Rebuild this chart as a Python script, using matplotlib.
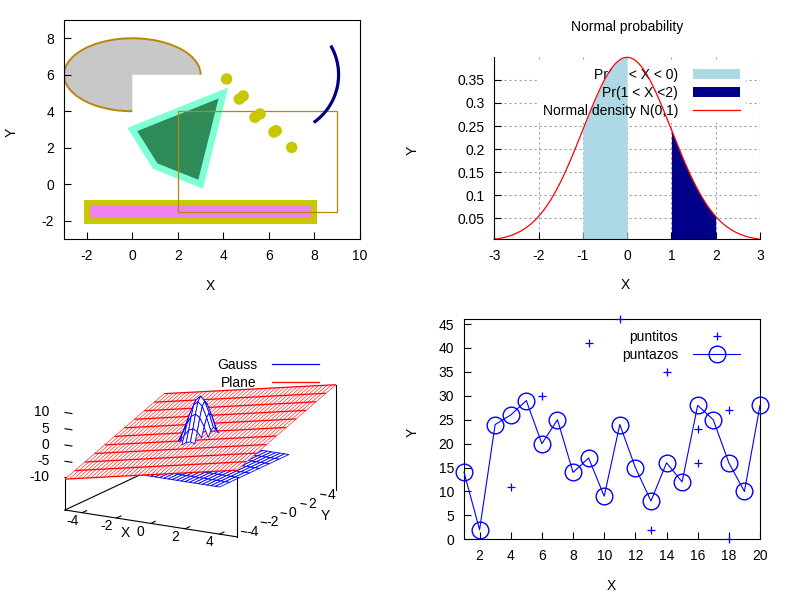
import numpy as np
import matplotlib
matplotlib.use("Agg")
import matplotlib.pyplot as plt
from matplotlib.patches import Rectangle, Polygon, PathPatch
from matplotlib.path import Path
from matplotlib.transforms import Affine2D
from matplotlib.lines import Line2D
from mpl_toolkits.mplot3d import proj3d
from mpl_toolkits.mplot3d.art3d import Poly3DCollection, Line3DCollection

plt.rcParams['font.family'] = ['Liberation Sans', 'DejaVu Sans']
plt.rcParams['font.size'] = 10
plt.rcParams['axes.unicode_minus'] = False

# ---------------- data: panel 1 (objects) ----------------
pie_center = [0.0, 6.0]
pie_size = [3.0, 2.0]          # semi-axes
pie_arc = [0.0, 270.0]
poly_vertices = [[4.0, 5.0], [0.0, 3.0], [1.0, 1.0], [3.0, 0.0]]
bar_corner = [-2.0, -2.0]
bar_extent = [10.0, 1.0]
frame_corner = [2.0, -1.5]
frame_extent = [7.0, 5.5]
dots_x = [4.14, 4.70, 4.87, 5.39, 5.61, 6.22, 6.32, 7.00]
dots_y = [5.77, 4.67, 4.84, 3.67, 3.85, 2.86, 2.93, 2.02]
arc_center = [6.5, 6.0]
arc_radius = 2.56
arc_angles = [-55.0, 30.0]

# ---------------- data: panel 2 (normal probability) ----------------
norm_mu = 0.0
norm_sigma = 1.0
norm_range = [-3.0, 3.0]
band1 = [-1.0, 0.0]
band2 = [1.0, 2.0]
norm_labels = ["Pr(-1 < X < 0)", "Pr(1 < X <2)", "Normal density N(0,1)"]

# ---------------- data: panel 3 (3D surfaces) ----------------
plane_x = np.linspace(-5, 5, 41)
plane_y = np.linspace(-5, 5, 11)
plane_coef = [1.1, 1.2, 1.0]            # z = a*x + b*y + c
gauss_floor_x = np.linspace(-2, 4, 25)
gauss_floor_y = np.linspace(-5, 2, 8)
gauss_peak_x = np.linspace(-1.5, 1.5, 13)
gauss_peak_y = np.linspace(-1.5, 1.5, 13)
gauss_par = [-5.5, 17.5, 0.78]          # floor, amplitude, width
tick3_xy = [-4, -2, 0, 2, 4]
tick3_z = [-10, -5, 0, 5, 10]

# ---------------- data: panel 4 ----------------
puntazos_x = list(range(1, 21))
puntazos_y = [14, 2, 24, 26, 29, 20, 25, 14, 17, 9, 24, 15, 8, 16, 12, 28, 25, 16, 10, 28]
puntitos_x = [4, 6, 9, 11, 13, 14, 16, 16, 18, 18]
puntitos_y = [11, 30, 41, 46, 2, 35, 23, 16, 27, 0]

W, H = 800, 600
fig = plt.figure(figsize=(8, 6), dpi=100)


def rect(l, t, r, b):
    return [l / W, 1 - b / H, (r - l) / W, (b - t) / H]


def style2d(ax):
    ax.tick_params(direction='in', length=5, width=0.8, pad=7, labelsize=10)
    for s in ax.spines.values():
        s.set_linewidth(0.8)


def place_labels(ax, xc, yc):
    ax.set_xlabel('X')
    ax.set_ylabel('Y')
    ax.xaxis.set_label_coords(*xc)
    ax.yaxis.set_label_coords(*yc)
    ax.xaxis.label.set_va('center')
    ax.yaxis.label.set_va('center')


# ====== panel 1 ======
ax1 = fig.add_axes(rect(64, 20, 360, 239))
ax1.set_xlim(-3, 10)
ax1.set_ylim(-3, 9)
ax1.set_xticks(range(-2, 11, 2))
ax1.set_yticks(range(-2, 9, 2))
style2d(ax1)

pie_tr = Affine2D().scale(pie_size[0], pie_size[1]).translate(*pie_center) + ax1.transData
ax1.add_patch(PathPatch(Path.wedge(*pie_arc), transform=pie_tr, facecolor='#c8c8c8',
                        edgecolor='none', zorder=1))
ax1.add_patch(PathPatch(Path.arc(*pie_arc), transform=pie_tr, facecolor='none',
                        edgecolor='#b8860b', lw=1.4, zorder=1.1))
ax1.add_patch(Polygon(poly_vertices, closed=True, facecolor='#2e8b57', edgecolor='#7fffd4',
                      lw=4.8, joinstyle='miter', zorder=2))
ax1.add_patch(Rectangle(bar_corner, *bar_extent, facecolor='#ee82ee', edgecolor='#c8c800',
                        lw=4.3, joinstyle='miter', zorder=2))
ax1.add_patch(Rectangle(frame_corner, *frame_extent, facecolor='none', edgecolor='#b8860b',
                        lw=0.9, zorder=3))
ax1.scatter(dots_x, dots_y, s=68, color='#c8c800', edgecolors='none', zorder=4)
p0 = ax1.transData.transform((0, 0))
px = ax1.transData.transform((1, 0))[0] - p0[0]
py = ax1.transData.transform((0, 1))[1] - p0[1]
arc_tr = Affine2D().scale(arc_radius, arc_radius * px / py).translate(*arc_center) + ax1.transData
ax1.add_patch(PathPatch(Path.arc(*arc_angles), transform=arc_tr, facecolor='none',
                        edgecolor='#000080', lw=2.3, zorder=4))
place_labels(ax1, (0.493, -0.215), (-0.176, 0.489))

# ====== panel 2 ======
ax2 = fig.add_axes(rect(494.3, 57.3, 760, 239.3))
xs = np.linspace(norm_range[0], norm_range[1], 601)
pdf = np.exp(-0.5 * ((xs - norm_mu) / norm_sigma) ** 2) / (norm_sigma * np.sqrt(2 * np.pi))
ax2.set_xlim(*norm_range)
ax2.set_ylim(pdf.min(), pdf.max())
ax2.set_xticks(range(-3, 4))
ax2.set_yticks([0.05, 0.1, 0.15, 0.2, 0.25, 0.3, 0.35])
ax2.set_yticklabels(['0.05', '0.1', '0.15', '0.2', '0.25', '0.3', '0.35'])
style2d(ax2)
ax2.spines['top'].set_visible(False)
ax2.spines['right'].set_visible(False)
ax2.set_axisbelow(True)
ax2.grid(True, color='#a0a0a0', lw=0.8, ls=(0, (2, 2.5)), zorder=0.5)
m1 = (xs >= band1[0]) & (xs <= band1[1])
m2 = (xs >= band2[0]) & (xs <= band2[1])
f1 = ax2.fill_between(xs[m1], 0, pdf[m1], color='#add8e6', lw=0, zorder=2, label=norm_labels[0])
f2 = ax2.fill_between(xs[m2], 0, pdf[m2], color='#00008b', lw=0, zorder=2.3, label=norm_labels[1])
l3, = ax2.plot(xs, pdf, color='#ff0000', lw=0.9, zorder=2.5, label=norm_labels[2], clip_on=False)
leg_kw = dict(handles=[f1, f2, l3], loc='upper right', bbox_to_anchor=(746 / W, 1 - 62 / H),
              bbox_transform=fig.transFigure, markerfirst=False, borderpad=0.4,
              borderaxespad=0, handlelength=3.4, handletextpad=1.1, labelspacing=0.3,
              handleheight=0.7, fontsize=10)
# key entry 1 lies under the first filled area, entries 2-3 above it (as gnuplot draws)
legA = ax2.legend(frameon=True, fancybox=False, edgecolor='none', facecolor='white',
                  framealpha=1, **leg_kw)
legA.set_zorder(1.5)
for k in (1, 2):
    legA.get_texts()[k].set_alpha(0)
    legA.legend_handles[k].set_alpha(0)
ax2.add_artist(legA)
legB = ax2.legend(frameon=False, **leg_kw)
legB.get_texts()[0].set_alpha(0)
legB.legend_handles[0].set_alpha(0)
legB.set_zorder(2.2)
ax2.text(0.5, 1 + (57.3 - 27) / 182, 'Normal probability', transform=ax2.transAxes,
         ha='center', va='center', fontsize=10)
place_labels(ax2, (0.4945, -0.251), (-0.309, 0.491))

# ====== panel 4 ======
ax4 = fig.add_axes(rect(464, 319.3, 760, 539.3))
ax4.set_xlim(1, 20)
ax4.set_ylim(0, 46)
ax4.set_xticks(range(2, 21, 2))
ax4.set_yticks(range(0, 46, 5))
style2d(ax4)
ax4.plot(puntitos_x, puntitos_y, '+', color='#0000ff', ms=6, mew=0.9, label='puntitos',
         clip_on=False, zorder=3)
ax4.plot(puntazos_x, puntazos_y, '-o', color='#0000ff', mfc='none', ms=12, mew=1.0,
         lw=0.8, label='puntazos', clip_on=False, zorder=3)
ax4.legend(loc='upper right', bbox_to_anchor=(746 / W, 1 - 324 / H),
           bbox_transform=fig.transFigure, markerfirst=False, frameon=False,
           borderpad=0.4, borderaxespad=0, handlelength=3.4, handletextpad=1.1,
           labelspacing=0.3, fontsize=10)
place_labels(ax4, (0.496, -0.211), (-0.175, 0.486))

# ====== panel 3 (3D) ======
ax3 = fig.add_axes([0.0, 0.1, 0.45, 0.6], projection='3d', computed_zorder=False)
ax3.set_proj_type('ortho')
ax3.view_init(elev=15.7, azim=-60)
ax3.set_box_aspect((1, 1, 0.545))
ax3.patch.set_alpha(0)
for axis in (ax3.xaxis, ax3.yaxis, ax3.zaxis):
    axis.pane.fill = False
    axis.pane.set_edgecolor((1, 1, 1, 0))
    axis.line.set_color((1, 1, 1, 0))
ax3.grid(False)
ax3.set_xticks([])
ax3.set_yticks([])
ax3.set_zticks([])


def plane(x, y):
    return plane_coef[0] * x + plane_coef[1] * y + plane_coef[2]


def gauss(x, y):
    return gauss_par[0] + gauss_par[1] * np.exp(-(x ** 2 + y ** 2) / gauss_par[2])


def cell_polys(xv, yv, f, keep=None):
    X, Y = np.meshgrid(xv, yv)
    Z = f(X, Y)
    polys = []
    for i in range(len(yv) - 1):
        for j in range(len(xv) - 1):
            q = [(X[i, j], Y[i, j], Z[i, j]), (X[i, j + 1], Y[i, j + 1], Z[i, j + 1]),
                 (X[i + 1, j + 1], Y[i + 1, j + 1], Z[i + 1, j + 1]),
                 (X[i + 1, j], Y[i + 1, j], Z[i + 1, j])]
            if keep is None or keep(q):
                polys.append(q)
    return polys


def above_plane(q):
    return np.mean([p[2] - plane(p[0], p[1]) for p in q]) > 0


bz = -20
edge_kw = dict(color='black', lw=0.8, zorder=0.5)
ax3.plot([-5, 5], [-5, -5], [bz, bz], **edge_kw)
ax3.plot([-5, -5], [-5, 5], [bz, bz], **edge_kw)
for cx, cy in [(-5, -5), (5, -5), (5, 5)]:
    ax3.plot([cx, cx], [cy, cy], [bz, plane(cx, cy)], **edge_kw)
for t in tick3_xy:
    ax3.plot([t, t], [-5, -4.55], [bz, bz], **edge_kw)
    ax3.plot([5, 4.7], [t, t], [bz, bz], **edge_kw)
for t in tick3_z:
    ax3.plot([-5, -4.6], [-5, -5], [t, t], **edge_kw)

floor = Poly3DCollection(cell_polys(gauss_floor_x, gauss_floor_y, gauss), facecolor='white',
                         edgecolor='#0000ff', linewidths=0.6, zorder=1)
ax3.add_collection3d(floor, autolim=False)
plane_pc = Poly3DCollection(cell_polys(plane_x, plane_y, plane), facecolor='white',
                            edgecolor='none', zorder=2)
ax3.add_collection3d(plane_pc, autolim=False)
# plane mesh: iso-lines along x (solid) and the dense sample lines along y (fainter)
seg_y = [[(x, yv, plane(x, yv)) for x in plane_x] for yv in plane_y]
seg_x = [[(xv, y, plane(xv, y)) for y in plane_y] for xv in plane_x]
ax3.add_collection3d(Line3DCollection(seg_x, colors='#ff3030', linewidths=0.5, zorder=2.1),
                     autolim=False)
ax3.add_collection3d(Line3DCollection(seg_y, colors='#ff0000', linewidths=0.9, zorder=2.2),
                     autolim=False)
peak = Poly3DCollection(cell_polys(gauss_peak_x, gauss_peak_y, gauss, keep=above_plane),
                        facecolor='white', edgecolor='#0000ff', linewidths=0.6, zorder=3)
ax3.add_collection3d(peak, autolim=False)
ax3.set_xlim(-5, 5)
ax3.set_ylim(-5, 5)
ax3.set_zlim(-20, 12)

h_g = Line2D([], [], color='#0000ff', lw=0.9)
h_p = Line2D([], [], color='#ff0000', lw=0.9)
ax3.legend([h_g, h_p], ['Gauss', 'Plane'], loc='upper right',
           bbox_to_anchor=(325 / W, 1 - 352 / H), bbox_transform=fig.transFigure,
           markerfirst=False, frameon=False, borderpad=0.4, borderaxespad=0,
           handlelength=3.4, handletextpad=1.1, labelspacing=0.3, fontsize=10)

# place the 3D axes so that the base box lands where intended
fig.canvas.draw()


def disp(pt):
    x, y, _ = proj3d.proj_transform(pt[0], pt[1], pt[2], ax3.get_proj())
    return ax3.transData.transform((x, y))


A = disp((-5, -5, bz))
B = disp((5, -5, bz))
target_A = np.array([65.0, H - 510.0])
target_B = np.array([236.7, H - 539.3])
s = (target_B[0] - target_A[0]) / (B[0] - A[0])
pos = ax3.get_position(original=False)
bb = fig.transFigure.transform([[pos.x0, pos.y0], [pos.x1, pos.y1]])
w0, h0 = bb[1] - bb[0]
u = (A - bb[0]) / np.array([w0, h0])
w1, h1 = w0 * s, h0 * s
x0n = target_A[0] - u[0] * w1
y0n = target_A[1] - u[1] * h1
ax3.set_position([x0n / W, y0n / H, w1 / W, h1 / H])
fig.canvas.draw()


def label3d(pt, text, dx, dy, ha='center'):
    d = disp(pt)
    fig.text((d[0] + dx) / W, (d[1] - dy) / H, text, ha=ha, va='center', fontsize=10)


for t in tick3_xy:
    label3d((t, -5, bz), str(t), -10, 8.2)
    label3d((5, t, bz), str(t), 6, -0.5)
for t in tick3_z:
    label3d((-5, -5, t), str(t), -15.7, 0, ha='right')
label3d((-1.5, -5, bz), 'X', 0, 13.8)
label3d((5, 3.98, bz), 'Y', 0, 20.5)

fig.savefig('out.png', dpi=100)
